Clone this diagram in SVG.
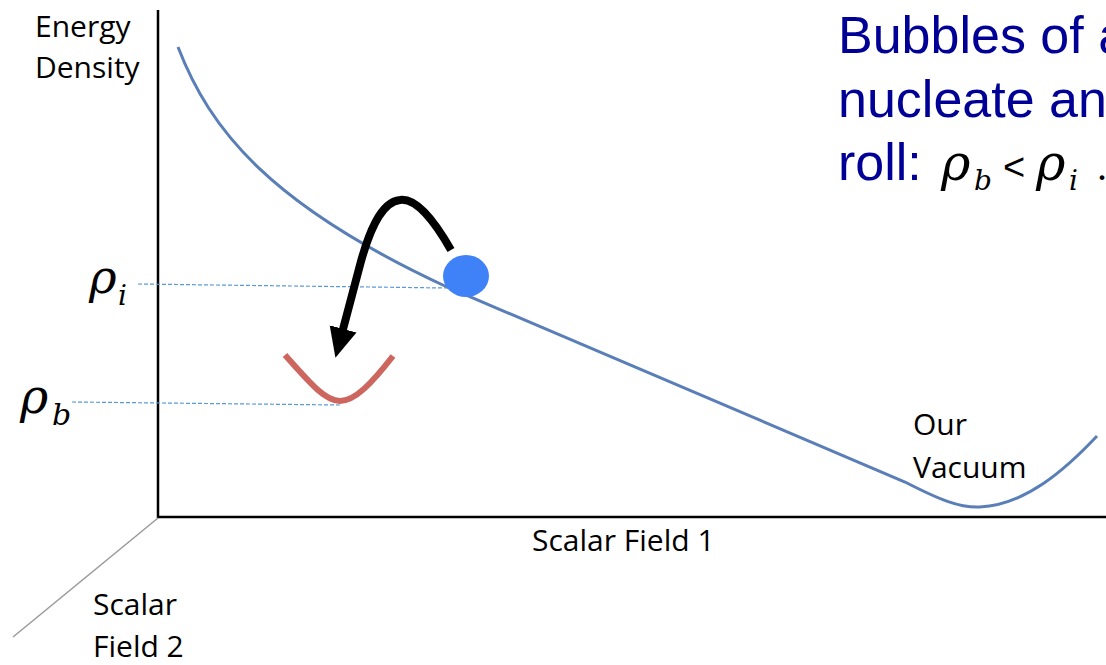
<svg xmlns="http://www.w3.org/2000/svg" width="1106" height="665" viewBox="0 0 1106 665">
<style>
.lbl{font-family:"Open Sans","DejaVu Sans",sans-serif;font-size:30px;fill:#000}
.ttl{font-family:"Liberation Sans",Arial,sans-serif;font-size:52px;fill:#000096}
.rho{font-family:"DejaVu Serif","Liberation Serif",serif;font-style:italic;fill:#000}
.dash{stroke:#5b9bd5;stroke-width:1.2;stroke-dasharray:4,2;fill:none}
</style>
<defs>
<marker id="ah" markerUnits="userSpaceOnUse" markerWidth="32" markerHeight="32" refX="4" refY="13" orient="auto" viewBox="0 0 30 26">
<polygon points="0,0 28,13 0,26" fill="#000"/>
</marker>
</defs>
<g id="axes">
<line x1="158" y1="10" x2="158" y2="518" stroke="#000" stroke-width="2.5"/>
<line x1="157" y1="517" x2="1106" y2="517" stroke="#000" stroke-width="2.5"/>
<line x1="158" y1="518" x2="13" y2="637" stroke="#999" stroke-width="1.5"/>
</g>
<g id="labels">
<text class="lbl" x="35" y="37">Energy</text>
<text class="lbl" x="35" y="78">Density</text>
<text class="lbl" x="532" y="551" font-size="31">Scalar Field 1</text>
<text class="lbl" x="93" y="615">Scalar</text>
<text class="lbl" x="93" y="657">Field 2</text>
<text class="lbl" x="913" y="435">Our</text>
<text class="lbl" x="913" y="478">Vacuum</text>
</g>
<g id="title">
<text class="ttl" x="838" y="53">Bubbles of a</text>
<text class="ttl" x="838" y="117">nucleate an</text>
<text class="ttl" x="838" y="180">roll:</text>
<text class="rho" x="941" y="180" font-size="50">ρ</text>
<text class="rho" x="974" y="190" font-size="28">b</text>
<text x="1003" y="180" font-family="Liberation Sans,Arial,sans-serif" font-size="38" fill="#000">&lt;</text>
<text class="rho" x="1036" y="180" font-size="50">ρ</text>
<text class="rho" x="1069" y="190" font-size="28">i</text>
<text x="1097" y="180" font-family="Liberation Serif,serif" font-size="40" fill="#000">.</text>
</g>
<g id="rho-labels">
<text class="rho" x="89" y="293" font-size="47">ρ</text>
<text class="rho" x="118" y="305" font-size="28">i</text>
<text class="rho" x="20" y="413" font-size="48">ρ</text>
<text class="rho" x="52" y="425" font-size="30">b</text>
</g>
<g id="connectors">
<path class="dash" d="M138,284 L447,288"/>
<path class="dash" d="M72,402 L340,405"/>
</g>
<g id="potential">
<path d="M178,47 C210,130 270,205 447,287 L905,482 C940,500 960,508 980,507 C1025,505 1065,470 1097,436" fill="none" stroke="#5a7fb8" stroke-width="3"/>
</g>
<g id="false-vacuum">
<path d="M285,355 C310,383 325,401 340,401 C355,401 372,383 393,356" fill="none" stroke="#cd665e" stroke-width="6"/>
</g>
<g id="ball">
<ellipse cx="466" cy="276" rx="23" ry="21" fill="#3f82f7"/>
</g>
<g id="tunnel-arrow">
<path d="M451,250 C432,217 415,198 400,200 C380,202 368,235 360,265 L342,333" fill="none" stroke="#000" stroke-width="8" marker-end="url(#ah)"/>
</g>
</svg>
